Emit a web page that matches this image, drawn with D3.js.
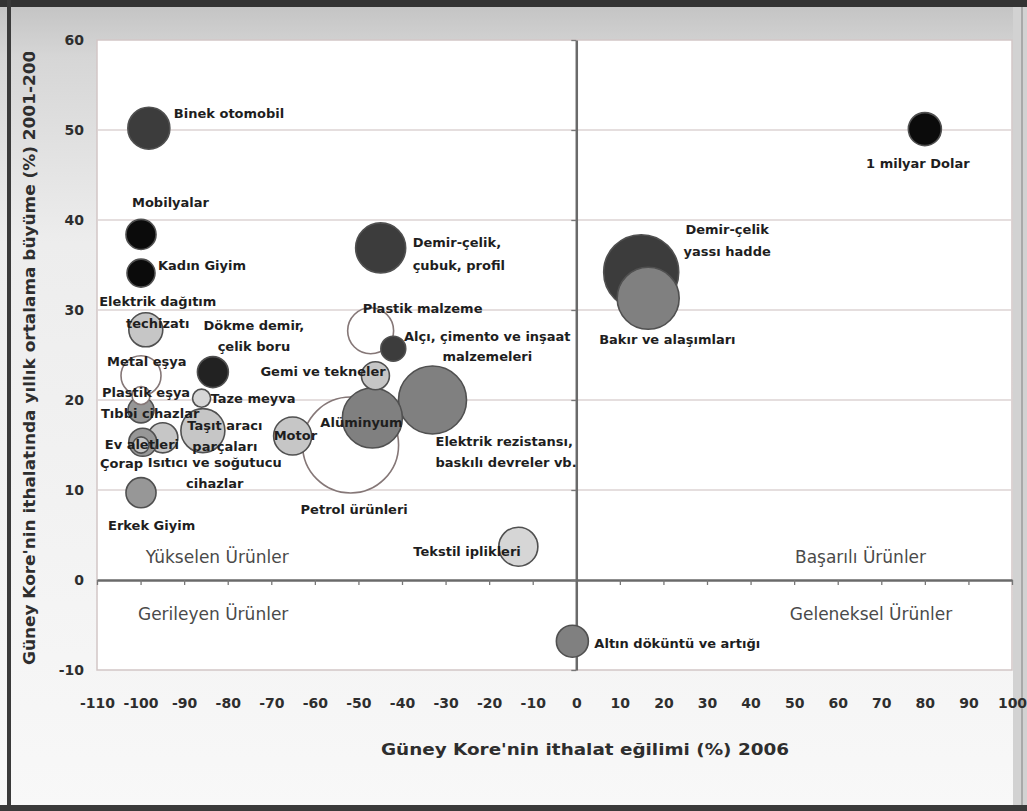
<!DOCTYPE html>
<html>
<head>
<meta charset="utf-8">
<script src="https://cdn.jsdelivr.net/npm/d3@7"></script>
<style>
  html, body { margin: 0; padding: 0; background: #f4f4f4; }
  svg { display: block; }
</style>
</head>
<body>
<svg id="chart" width="1027" height="811"></svg>
<script>
// ---------------- DATA ----------------
const categories = [
  "Binek otomobil", "1 milyar Dolar", "Mobilyalar", "Kadın Giyim",
  "Demir-çelik, çubuk, profil", "Demir-çelik yassı hadde", "Bakır ve alaşımları",
  "Elektrik dağıtım techizatı", "Plastik malzeme", "Alçı, çimento ve inşaat malzemeleri",
  "Dökme demir, çelik boru", "Metal eşya", "Gemi ve tekneler", "Plastik eşya",
  "Taze meyva", "Tıbbi cihazlar", "Taşıt aracı parçaları", "Motor", "Alüminyum",
  "Elektrik rezistansı, baskılı devreler vb.", "Petrol ürünleri", "Ev aletleri",
  "Isıtıcı ve soğutucu cihazlar", "Çorap", "Erkek Giyim", "Tekstil iplikleri",
  "Altın döküntü ve artığı"
];
// import tendency (%) 2006
const xValues = [-98.1, 80.0, -99.9, -99.9, -44.9, 14.9, 16.5, -98.8, -47.2, -42.0,
  -83.4, -99.9, -46.1, -99.9, -86.0, -99.9, -85.7, -65.1, -46.8, -33.0, -51.8, -99.5,
  -94.9, -99.9, -99.9, -13.3, -0.9];
// average annual growth of imports (%) 2001-2006
const yValues = [50.2, 50.1, 38.4, 34.1, 36.9, 34.2, 31.3, 27.8, 27.7, 25.7,
  23.1, 22.7, 22.7, 20.5, 20.2, 18.9, 16.6, 16.0, 18.0, 20.0, 15.0, 15.3,
  15.8, 15.0, 9.7, 3.7, -6.8];
// import value (billion $), bubble area
const sizeValues = [1.62, 1.0, 0.83, 0.72, 2.30, 5.17, 3.53, 1.06, 1.94, 0.57,
  0.88, 1.47, 0.72, 0.30, 0.30, 0.62, 1.78, 1.33, 3.31, 4.25, 8.46, 0.72,
  0.83, 0.24, 0.83, 1.40, 0.94];
// shade group of each bubble
const shadeGroups = ["dark", "black", "black", "black", "dark", "dark", "mid",
  "light", "white", "dark", "darkest", "white", "light", "white", "lighter", "midlight",
  "light", "light", "mid", "mid", "white", "midlight", "light", "light", "midlight",
  "lighter", "mid"];

const xTickValues = [-110, -100, -90, -80, -70, -60, -50, -40, -30, -20, -10, 0,
  10, 20, 30, 40, 50, 60, 70, 80, 90, 100];
const yTickValues = [-10, 0, 10, 20, 30, 40, 50, 60];

const quadrantNames = ["Yükselen Ürünler", "Başarılı Ürünler", "Gerileyen Ürünler", "Geleneksel Ürünler"];
const quadrantX = [-98.8, 50.2, -100.6, 49.0];
const quadrantY = [2.55, 2.55, -3.8, -3.8];

const xTitle = "Güney Kore'nin ithalat eğilimi (%) 2006";
const yTitle = "Güney Kore'nin ithalatında yıllık ortalama büyüme (%) 2001-2006";

// label layout (pixel offsets from the bubble centre)
const labelLayout = {
  "Binek otomobil": {dx: 25, dy: -15, anchor: "start", lines: ["Binek otomobil"]},
  "1 milyar Dolar": {dx: -7, dy: 34, anchor: "middle", lines: ["1 milyar Dolar"]},
  "Mobilyalar": {dx: -9, dy: -32, anchor: "start", lines: ["Mobilyalar"]},
  "Kadın Giyim": {dx: 17, dy: -8, anchor: "start", lines: ["Kadın Giyim"]},
  "Demir-çelik, çubuk, profil": {dx: 32, dy: -6, anchor: "start", lines: ["Demir-çelik,", "çubuk, profil"], gap: 23},
  "Demir-çelik yassı hadde": {dx: 86, dy: -43, anchor: "middle", lines: ["Demir-çelik", "yassı hadde"], gap: 22},
  "Bakır ve alaşımları": {dx: -49, dy: 41, anchor: "start", lines: ["Bakır ve alaşımları"]},
  "Elektrik dağıtım techizatı": {dx: 12, dy: -28, anchor: "middle", lines: ["Elektrik dağıtım", "techizatı"], gap: 22},
  "Plastik malzeme": {dx: -8, dy: -22, anchor: "start", lines: ["Plastik malzeme"]},
  "Alçı, çimento ve inşaat malzemeleri": {dx: 94, dy: -12, anchor: "middle", lines: ["Alçı, çimento ve inşaat", "malzemeleri"], gap: 20},
  "Dökme demir, çelik boru": {dx: 41, dy: -47, anchor: "middle", lines: ["Dökme demir,", "çelik boru"], gap: 21},
  "Metal eşya": {dx: -34, dy: -14, anchor: "start", lines: ["Metal eşya"]},
  "Gemi ve tekneler": {dx: -115, dy: -4, anchor: "start", lines: ["Gemi ve tekneler"]},
  "Plastik eşya": {dx: -39, dy: -3, anchor: "start", lines: ["Plastik eşya"]},
  "Taze meyva": {dx: 9, dy: 0, anchor: "start", lines: ["Taze meyva"]},
  "Tıbbi cihazlar": {dx: -40, dy: 3, anchor: "start", lines: ["Tıbbi cihazlar"]},
  "Taşıt aracı parçaları": {dx: 22, dy: -5, anchor: "middle", lines: ["Taşıt aracı", "parçaları"], gap: 21},
  "Motor": {dx: -19, dy: -1, anchor: "start", lines: ["Motor"]},
  "Alüminyum": {dx: -52, dy: 4, anchor: "start", lines: ["Alüminyum"]},
  "Elektrik rezistansı, baskılı devreler vb.": {dx: 3, dy: 41, anchor: "start", lines: ["Elektrik rezistansı,", "baskılı devreler vb."], gap: 21},
  "Petrol ürünleri": {dx: -50, dy: 64, anchor: "start", lines: ["Petrol ürünleri"]},
  "Ev aletleri": {dx: -38, dy: 2, anchor: "start", lines: ["Ev aletleri"]},
  "Isıtıcı ve soğutucu cihazlar": {dx: 52, dy: 25, anchor: "middle", lines: ["Isıtıcı ve soğutucu", "cihazlar"], gap: 21},
  "Çorap": {dx: -41, dy: 18, anchor: "start", lines: ["Çorap"]},
  "Erkek Giyim": {dx: -33, dy: 33, anchor: "start", lines: ["Erkek Giyim"]},
  "Tekstil iplikleri": {dx: -105, dy: 5, anchor: "start", lines: ["Tekstil iplikleri"]},
  "Altın döküntü ve artığı": {dx: 22, dy: 2, anchor: "start", lines: ["Altın döküntü ve artığı"]}
};

// ---------------- DRAW ----------------
const W = 1027, H = 811;
const plot = {left: 97, right: 1012, top: 40, bottom: 670};
const svg = d3.select("#chart");

const defs = svg.append("defs");
const grad = defs.append("linearGradient").attr("id", "bg").attr("x1", 0).attr("y1", 0).attr("x2", 0).attr("y2", 1);
grad.append("stop").attr("offset", "0").attr("stop-color", "#c2c2c2");
grad.append("stop").attr("offset", "0.07").attr("stop-color", "#d6d6d6");
grad.append("stop").attr("offset", "0.3").attr("stop-color", "#ededed");
grad.append("stop").attr("offset", "1").attr("stop-color", "#f8f8f8");
defs.append("clipPath").attr("id", "ytclip").append("rect")
  .attr("x", 0).attr("y", 52).attr("width", 96).attr("height", H);

svg.append("rect").attr("width", W).attr("height", H).attr("fill", "url(#bg)");
// frame
svg.append("rect").attr("x", 0).attr("y", 0).attr("width", W).attr("height", 7).attr("fill", "#333");
svg.append("rect").attr("x", 7).attr("y", 0).attr("width", 4).attr("height", H).attr("fill", "#3a3a3a");
svg.append("rect").attr("x", 0).attr("y", 805).attr("width", W).attr("height", 6).attr("fill", "#3a3a3a");
svg.append("rect").attr("x", 1013).attr("y", 7).attr("width", 14).attr("height", 798).attr("fill", "#d2d2d2");
svg.append("rect").attr("x", 1021).attr("y", 7).attr("width", 2).attr("height", 798).attr("fill", "#a9a9a9");

const x = d3.scaleLinear().domain([-110, 100]).range([plot.left, plot.right]);
const y = d3.scaleLinear().domain([-10, 60]).range([plot.bottom, plot.top]);
const r = d3.scaleSqrt().domain([0, 1]).range([0, 16.5]);
const shade = d3.scaleOrdinal()
  .domain(["black", "darkest", "dark", "mid", "midlight", "light", "lighter", "white"])
  .range(["#0b0b0b", "#222222", "#3c3c3c", "#808080", "#979797", "#c6c6c6", "#d6d6d6", "#ffffff"]);

// plot background
svg.append("rect").attr("x", plot.left).attr("y", plot.top)
  .attr("width", plot.right - plot.left).attr("height", plot.bottom - plot.top)
  .attr("fill", "#ffffff").attr("stroke", "#d2c6c6").attr("stroke-width", 1.5);

// gridlines
svg.append("g").selectAll("line").data(yTickValues.filter(v => v > -10 && v < 60 && v !== 0))
  .join("line")
  .attr("x1", plot.left).attr("x2", plot.right)
  .attr("y1", d => y(d)).attr("y2", d => y(d))
  .attr("stroke", "#ddd3d3").attr("stroke-width", 1.5);

// axes crossing at 0
const xAxis0 = svg.append("g").attr("transform", `translate(0,${y(0)})`)
  .call(d3.axisBottom(x).tickValues(xTickValues).tickSize(5).tickFormat("").tickSizeOuter(0));
xAxis0.select(".domain").attr("stroke", "#6a6a6a").attr("stroke-width", 2.5);
xAxis0.selectAll(".tick line").attr("stroke", "#777").attr("stroke-width", 1.3);

const yAxis0 = svg.append("g").attr("transform", `translate(${x(0)},0)`)
  .call(d3.axisLeft(y).tickValues(yTickValues).tickSize(5).tickFormat("").tickSizeOuter(0));
yAxis0.select(".domain").attr("stroke", "#6a6a6a").attr("stroke-width", 2.5);
yAxis0.selectAll(".tick line").attr("stroke", "#777").attr("stroke-width", 1.3);

// tick labels
const tickFont = "'DejaVu Sans', sans-serif";
const fmt = d => String(d);
const xLab = svg.append("g").attr("transform", "translate(0,690)")
  .call(d3.axisBottom(x).tickValues(xTickValues).tickSize(0).tickPadding(8).tickFormat(fmt));
xLab.select(".domain").remove();
xLab.selectAll("text").attr("font-family", tickFont).attr("font-weight", "bold")
  .attr("font-size", 14).attr("fill", "#2e2e2e");

const yLab = svg.append("g").attr("transform", `translate(${plot.left},0)`)
  .call(d3.axisLeft(y).tickValues(yTickValues).tickSize(0).tickPadding(13).tickFormat(fmt));
yLab.select(".domain").remove();
yLab.selectAll("text").attr("font-family", tickFont).attr("font-weight", "bold")
  .attr("font-size", 14).attr("fill", "#2e2e2e");

// axis titles
svg.append("text").attr("x", 585).attr("y", 755).attr("text-anchor", "middle")
  .attr("font-family", tickFont).attr("font-weight", "bold").attr("font-size", 15)
  .attr("textLength", 408).attr("lengthAdjust", "spacingAndGlyphs")
  .attr("fill", "#2e2e2e").text(xTitle);
svg.append("g").attr("clip-path", "url(#ytclip)")
  .append("text").attr("transform", "translate(35,665) rotate(-90)")
  .attr("text-anchor", "start")
  .attr("font-family", tickFont).attr("font-weight", "bold").attr("font-size", 15)
  .attr("textLength", 626).attr("lengthAdjust", "spacingAndGlyphs")
  .attr("fill", "#2e2e2e").text(yTitle);

// quadrant labels
svg.append("g").selectAll("text").data(quadrantNames).join("text")
  .attr("x", (d, i) => x(quadrantX[i])).attr("y", (d, i) => y(quadrantY[i]))
  .attr("dy", "0.36em")
  .attr("font-family", tickFont).attr("font-size", 17).attr("fill", "#4a4a4a")
  .text(d => d);

// bubbles
const items = categories.map((name, i) => ({
  name, xv: xValues[i], yv: yValues[i], size: sizeValues[i], group: shadeGroups[i]
}));
const ordered = items.slice().sort((a, b) => b.size - a.size);

svg.append("g").selectAll("circle").data(ordered).join("circle")
  .attr("cx", d => x(d.xv)).attr("cy", d => y(d.yv)).attr("r", d => r(d.size))
  .attr("fill", d => shade(d.group))
  .attr("stroke", d => d.group === "white" ? "#857777" : "#505050")
  .attr("stroke-width", 1.6);

// bubble labels
const lab = svg.append("g").attr("font-family", tickFont).attr("font-weight", "bold")
  .attr("font-size", 13).attr("fill", "#1e1e1e");
items.forEach(d => {
  const L = labelLayout[d.name];
  if (!L) return;
  const t = lab.append("text")
    .attr("x", x(d.xv) + L.dx).attr("y", y(d.yv) + L.dy)
    .attr("text-anchor", L.anchor);
  L.lines.forEach((line, k) => {
    t.append("tspan").attr("x", x(d.xv) + L.dx)
      .attr("y", y(d.yv) + L.dy + k * (L.gap || 21)).attr("dy", "0.36em").text(line);
  });
});
</script>
</body>
</html>
